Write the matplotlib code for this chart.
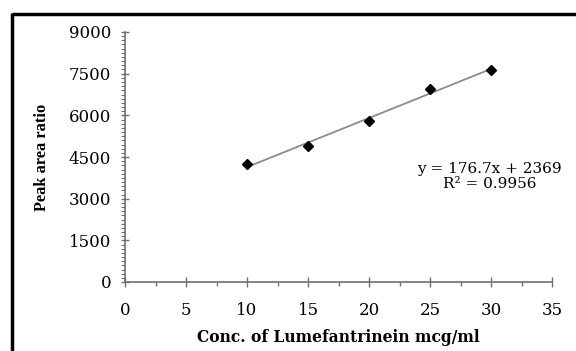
import matplotlib
matplotlib.use("Agg")
import matplotlib.pyplot as plt
from matplotlib.lines import Line2D
import numpy as np

conc = [10, 15, 20, 25, 30]
peak_ratio = [4260, 4900, 5800, 6960, 7630]
slope = 176.7
intercept = 2369
eq_text = "y = 176.7x + 2369"
r2_text = "R² = 0.9956"
x_ticks = [0, 5, 10, 15, 20, 25, 30, 35]
y_ticks = [0, 1500, 3000, 4500, 6000, 7500, 9000]

plt.rcParams['font.family'] = ['DejaVu Serif']

fig = plt.figure(figsize=(5.76, 3.51), dpi=100)
ax = fig.add_axes([125/576, 1-282/351, (552-125)/576, (282-32)/351])

xs = np.array([conc[0], conc[-1]])
ax.plot(xs, slope*xs + intercept, color='#8c8c8c', lw=1.3, zorder=2)
ax.plot(conc, peak_ratio, linestyle='none', marker='D', ms=5, color='black', zorder=3)

ax.set_xlim(0, 35)
ax.set_ylim(0, 9000)
ax.set_xticks(x_ticks)
ax.set_yticks(y_ticks)
ax.set_xticks(np.arange(2.5, 35, 5), minor=True)
ax.set_yticks(np.arange(0, 9001, 150), minor=True)

for s in ['top', 'right']:
    ax.spines[s].set_visible(False)
for s in ['left', 'bottom']:
    ax.spines[s].set_color('#707070')
    ax.spines[s].set_linewidth(1.2)

ax.tick_params(axis='y', which='major', direction='inout', length=6, width=1, color='#707070',
               labelsize=12, pad=7)
ax.tick_params(axis='y', which='minor', direction='out', length=3, width=0.8, color='#707070')
ax.tick_params(axis='x', which='major', direction='inout', length=7, width=1, color='#707070',
               labelsize=12, pad=11)
ax.tick_params(axis='x', which='minor', direction='out', length=3, width=1, color='#707070')

ax.set_xlabel("Conc. of Lumefantrinein mcg/ml", fontsize=11.2, fontweight='bold', va='center')
ax.xaxis.set_label_coords((338-125)/427, -(338-282)/250)
ax.set_ylabel("Peak area ratio", fontsize=11.8, fontweight='bold',
              family=['Liberation Serif', 'DejaVu Serif'], va='center')
ax.yaxis.set_label_coords(-(125-42)/427, (282-157)/250)

fig.text(489/576, 1-169/351, eq_text, fontsize=11, ha='center', va='center')
fig.text(490/576, 1-184/351, r2_text, fontsize=11, ha='center', va='center')

# outer frame (top and left edges)
fig.add_artist(Line2D([12/576, 1.0], [1-14/351, 1-14/351], color='black', lw=2.5,
                      solid_capstyle='butt', transform=fig.transFigure))
fig.add_artist(Line2D([12/576, 12/576], [0.0, 1-13/351], color='black', lw=2.5,
                      solid_capstyle='butt', transform=fig.transFigure))

fig.savefig("out.png", dpi=100)
